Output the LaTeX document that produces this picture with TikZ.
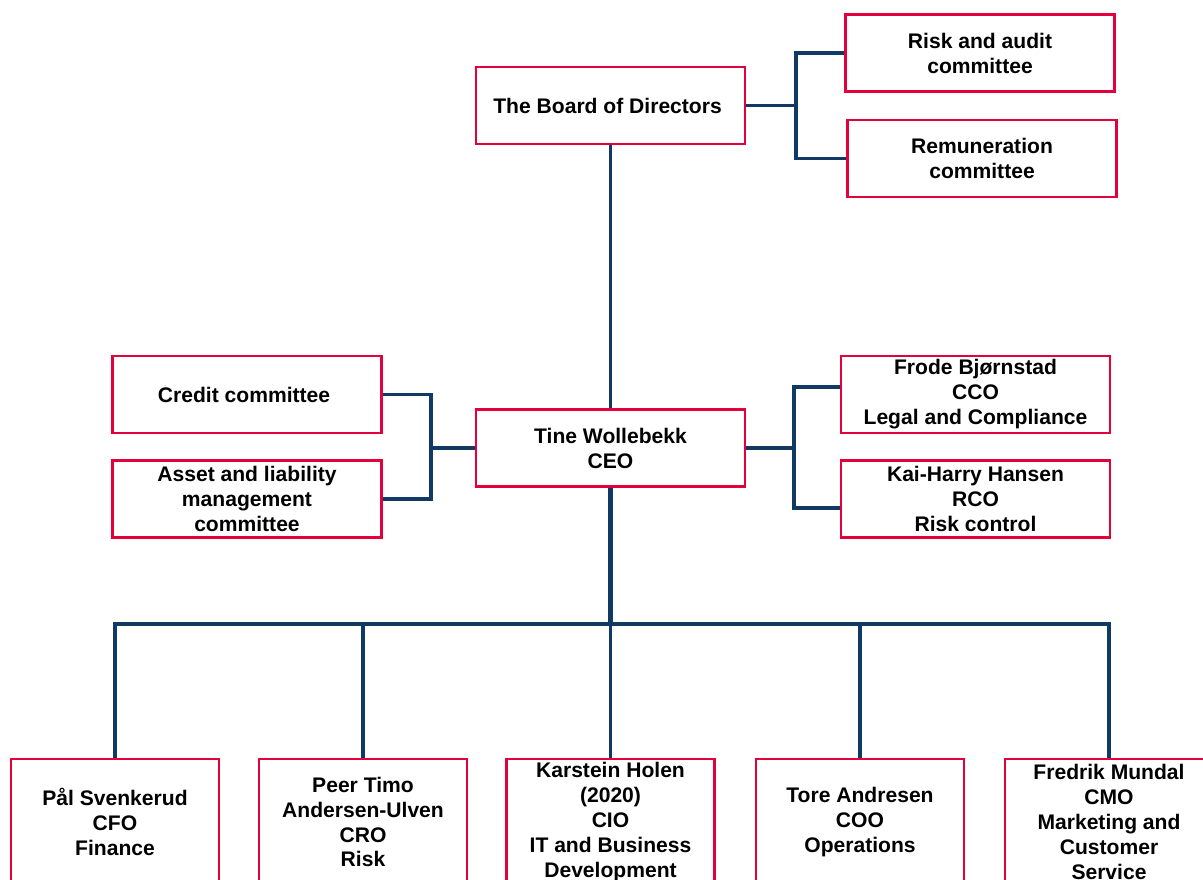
\documentclass[tikz,border=0pt]{standalone}
\usepackage{fontspec}
\setmainfont{Liberation Sans}
\usetikzlibrary{positioning}
\definecolor{boxred}{RGB}{228,0,58}
\definecolor{linkblue}{RGB}{16,58,99}
\tikzset{
    orgbox/.style={draw=boxred, line width=1.2pt, fill=white, align=center,
        inner sep=0pt, minimum width=5.38cm, minimum height=1.54cm,
        font=\fontsize{12}{14.2}\selectfont\bfseries},
    staffbox/.style={orgbox, minimum width=4.16cm, minimum height=2.52cm},
    link/.style={draw=linkblue, line width=1.8pt},
    trunk/.style={link, line width=2.8pt}
}

\begin{document}
\begin{tikzpicture}[x=0.02cm, y=-0.02cm]
        \useasboundingbox (0,0) rectangle (1203,879);
        \clip (0,0) rectangle (1203,879);
        \node[orgbox] (Board) at (610.5,105.5) {
            The Board of Directors
        };
        \node[orgbox] (RiskAudit) at (980,53) {
            Risk and audit\\committee
        };
        \node[orgbox] (Remuneration) at (982,158.5) {
            Remuneration\\committee
        };
        \node[orgbox] (CEO) at (610.5,448) {
            Tine Wollebekk\\CEO
        };
        \node[orgbox] (Credit) at (247,394.5) {
            Credit committee
        };
        \node[orgbox] (ALM) at (247,499) {
            Asset and liability\\management\\committee
        };
        \node[orgbox] (CCO) at (975.5,394.5) {
            Frode Bjørnstad\\CCO\\Legal and Compliance
        };
        \node[orgbox] (RCO) at (975.5,499) {
            Kai-Harry Hansen\\RCO\\Risk control
        };
        \node[staffbox] (CFO) at (115,822) {
            Pål Svenkerud\\CFO\\Finance
        };
        \node[staffbox] (CRO) at (363,822) {
            Peer Timo\\Andersen-Ulven\\CRO\\Risk
        };
        \node[staffbox] (CIO) at (610.5,822) {
            Karstein Holen\\(2020)\\CIO\\IT and Business\\Development
        };
        \node[staffbox] (COO) at (860,822) {
            Tore Andresen\\COO\\Operations
        };
        \node[staffbox] (CMO) at (1109,822) {
            Fredrik Mundal\\CMO\\Marketing and\\Customer\\Service
        };
        % junctions
        \coordinate (BoardSplit) at (796,105.5);
        \coordinate (CommitteeJoin) at (431,448);
        \coordinate (CEOSplit) at (794,448);
        \coordinate (Bus) at (610.5,624);
        % connectors
        \draw[link] (Board) -- (CEO);
        \draw[link] (Board.east) -- (BoardSplit);
        \draw[link] (RiskAudit.west) -| (BoardSplit) |- (Remuneration.west);
        \draw[link] (Credit.east) -| (CommitteeJoin) |- (ALM.east);
        \draw[link] (CommitteeJoin) -- (CEO.west);
        \draw[link] (CEO.east) -- (CEOSplit);
        \draw[link] ([yshift=0.15cm]CCO.west) -| (CEOSplit) |- ([yshift=-0.18cm]RCO.west);
        \draw[trunk] (CEO.south) -- (Bus);
        \foreach \staff in {CFO,CRO,CIO,COO,CMO}
            \draw[link] (Bus) -| (\staff.north);
\end{tikzpicture}
\end{document}
